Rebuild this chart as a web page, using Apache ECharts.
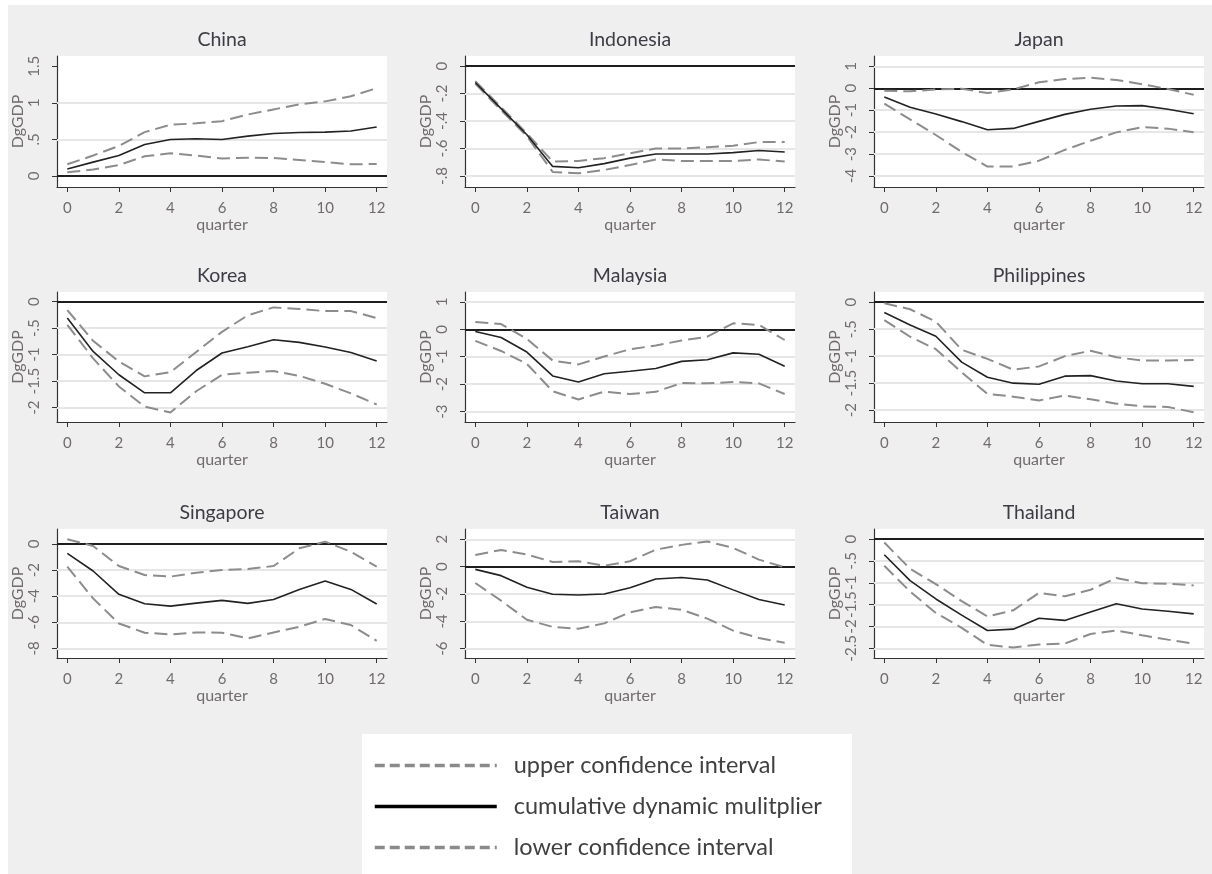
<!DOCTYPE html>
<html>
<head>
<meta charset="utf-8">
<script src="https://cdn.jsdelivr.net/npm/echarts/dist/echarts.min.js"></script>
<style>
html,body{margin:0;padding:0;background:#ffffff;}
#chart{width:1212px;height:874px;}
</style>
</head>
<body>
<div id="chart"></div>
<script>
// ---------------- data ----------------
const quarters = [0,1,2,3,4,5,6,7,8,9,10,11,12];
const countries = ['China','Indonesia','Japan','Korea','Malaysia','Philippines','Singapore','Taiwan','Thailand'];
const seriesNames = ['upper confidence interval','cumulative dynamic mulitplier','lower confidence interval'];

const chinaMid   = [0.095,0.19,0.28,0.43,0.50,0.51,0.50,0.545,0.58,0.595,0.60,0.615,0.67];
const chinaUp    = [0.16,0.28,0.41,0.60,0.70,0.72,0.75,0.84,0.91,0.98,1.02,1.09,1.20];
const chinaLo    = [0.05,0.09,0.15,0.27,0.31,0.28,0.24,0.25,0.245,0.22,0.19,0.16,0.165];

const indonesiaMid = [-0.12,-0.31,-0.50,-0.73,-0.74,-0.71,-0.67,-0.64,-0.64,-0.64,-0.63,-0.615,-0.625];
const indonesiaUp  = [-0.11,-0.30,-0.49,-0.695,-0.69,-0.67,-0.635,-0.60,-0.60,-0.59,-0.58,-0.553,-0.553];
const indonesiaLo  = [-0.13,-0.32,-0.51,-0.77,-0.78,-0.756,-0.72,-0.68,-0.69,-0.69,-0.69,-0.68,-0.695];

const japanMid = [-0.40,-0.87,-1.17,-1.52,-1.89,-1.83,-1.51,-1.19,-0.96,-0.81,-0.79,-0.96,-1.16];
const japanUp  = [-0.11,-0.14,-0.05,-0.02,-0.22,-0.05,0.27,0.42,0.48,0.38,0.18,-0.03,-0.30];
const japanLo  = [-0.70,-1.42,-2.13,-2.90,-3.57,-3.56,-3.30,-2.81,-2.39,-2.01,-1.77,-1.84,-2.01];

const koreaMid = [-0.31,-0.94,-1.38,-1.72,-1.72,-1.30,-0.97,-0.85,-0.72,-0.77,-0.855,-0.96,-1.12];
const koreaUp  = [-0.16,-0.74,-1.13,-1.41,-1.33,-0.95,-0.57,-0.26,-0.11,-0.14,-0.18,-0.18,-0.31];
const koreaLo  = [-0.44,-1.07,-1.60,-1.98,-2.09,-1.69,-1.38,-1.34,-1.31,-1.40,-1.55,-1.73,-1.94];

const malaysiaMid = [-0.08,-0.30,-0.83,-1.70,-1.92,-1.62,-1.53,-1.43,-1.17,-1.11,-0.86,-0.91,-1.35];
const malaysiaUp  = [0.27,0.19,-0.35,-1.14,-1.28,-0.99,-0.73,-0.59,-0.41,-0.27,0.22,0.16,-0.39];
const malaysiaLo  = [-0.42,-0.79,-1.26,-2.26,-2.56,-2.27,-2.36,-2.28,-1.96,-1.97,-1.92,-1.97,-2.36];

const philippinesMid = [-0.19,-0.42,-0.63,-1.11,-1.39,-1.50,-1.52,-1.37,-1.36,-1.46,-1.51,-1.51,-1.56];
const philippinesUp  = [-0.02,-0.13,-0.36,-0.88,-1.05,-1.25,-1.19,-1.00,-0.90,-1.02,-1.08,-1.08,-1.07];
const philippinesLo  = [-0.33,-0.64,-0.87,-1.30,-1.70,-1.75,-1.82,-1.73,-1.80,-1.88,-1.93,-1.94,-2.04];

const singaporeMid = [-0.72,-2.07,-3.86,-4.58,-4.76,-4.53,-4.32,-4.55,-4.25,-3.48,-2.84,-3.48,-4.60];
const singaporeUp  = [0.36,-0.15,-1.69,-2.38,-2.50,-2.20,-2.00,-1.92,-1.69,-0.33,0.18,-0.59,-1.74];
const singaporeLo  = [-1.74,-4.17,-6.09,-6.80,-6.93,-6.78,-6.80,-7.24,-6.78,-6.34,-5.75,-6.21,-7.42];

const taiwanMid = [-0.20,-0.66,-1.51,-2.02,-2.07,-2.00,-1.54,-0.90,-0.80,-0.98,-1.70,-2.41,-2.80];
const taiwanUp  = [0.85,1.22,0.88,0.34,0.39,0.07,0.39,1.24,1.59,1.83,1.37,0.51,-0.05];
const taiwanLo  = [-1.20,-2.49,-3.88,-4.41,-4.54,-4.15,-3.34,-2.95,-3.15,-3.80,-4.68,-5.22,-5.56];

const thailandMid = [-0.36,-0.95,-1.37,-1.74,-2.09,-2.06,-1.81,-1.86,-1.67,-1.48,-1.60,-1.65,-1.71];
const thailandUp  = [-0.08,-0.68,-1.03,-1.42,-1.77,-1.63,-1.23,-1.31,-1.16,-0.89,-1.01,-1.02,-1.06];
const thailandLo  = [-0.61,-1.20,-1.69,-2.03,-2.42,-2.48,-2.41,-2.39,-2.17,-2.09,-2.20,-2.30,-2.39];

const xTicks = [0,2,4,6,8,10,12];
const yTicksChina       = [0,0.5,1,1.5];
const yTicksIndonesia   = [0,-0.2,-0.4,-0.6,-0.8];
const yTicksJapan       = [1,0,-1,-2,-3,-4];
const yTicksKorea       = [0,-0.5,-1,-1.5,-2];
const yTicksMalaysia    = [1,0,-1,-2,-3];
const yTicksPhilippines = [0,-0.5,-1,-1.5,-2];
const yTicksSingapore   = [0,-2,-4,-6,-8];
const yTicksTaiwan      = [2,0,-2,-4,-6];
const yTicksThailand    = [0,-0.5,-1,-1.5,-2,-2.5];

// y-range of each plot region
const yMin = [-0.15,-0.88,-4.5,-2.27,-3.38,-2.22,-8.74,-6.68,-2.72];
const yMax = [1.64,0.073,1.47,0.18,1.36,0.19,1.15,2.75,0.23];

const mids = [chinaMid,indonesiaMid,japanMid,koreaMid,malaysiaMid,philippinesMid,singaporeMid,taiwanMid,thailandMid];
const ups  = [chinaUp,indonesiaUp,japanUp,koreaUp,malaysiaUp,philippinesUp,singaporeUp,taiwanUp,thailandUp];
const los  = [chinaLo,indonesiaLo,japanLo,koreaLo,malaysiaLo,philippinesLo,singaporeLo,taiwanLo,thailandLo];
const yTicks = [yTicksChina,yTicksIndonesia,yTicksJapan,yTicksKorea,yTicksMalaysia,yTicksPhilippines,yTicksSingapore,yTicksTaiwan,yTicksThailand];

// ---------------- layout ----------------
const colLeft = [57, 465, 874];
const plotW = 330;
const rowTop = [56, 292, 529];
const plotH = [131, 130, 129];

const FONT = 'Lato';
const labelColor = '#716b6e';
const fmt = v => {
  let s = String(Math.round(v*1000)/1000);
  return s.replace(/^(-?)0\./, '$1.');
};

const chart = echarts.init(document.getElementById('chart'), null, {renderer:'canvas'});

const grid = [], xAxis = [], yAxis = [], series = [], title = [];

countries.forEach((name, i) => {
  const r = Math.floor(i/3), c = i % 3;
  grid.push({left: colLeft[c], top: rowTop[r], width: plotW, height: plotH[r], backgroundColor:'#ffffff', show:true, borderWidth:0});
  title.push({
    text: name, left: colLeft[c] + plotW/2, top: rowTop[r] - 26, textAlign:'center', padding:0,
    textStyle:{fontFamily:FONT, fontSize:19.5, fontWeight:'normal', color:'#3e3b44'}
  });
  xAxis.push({
    type:'value', gridIndex:i, min:-0.4, max:12.4,
    name:'quarter', nameLocation:'middle', nameGap:24,
    nameTextStyle:{fontFamily:FONT, fontSize:16, color:labelColor},
    axisLine:{show:true, onZero:false, lineStyle:{color:'#333', width:1.2}},
    axisTick:{show:true, length:5, inside:false, customValues:xTicks, lineStyle:{color:'#333', width:1}},
    axisLabel:{customValues:xTicks, margin:14, fontFamily:FONT, fontSize:15, color:labelColor},
    splitLine:{show:false}
  });
  const gridVals = yTicks[i].filter(v => v !== 0 && !(i === 0 && v === 1.5));
  yAxis.push({
    type:'value', gridIndex:i, min:yMin[i], max:yMax[i],
    name:'DgGDP', nameLocation:'middle', nameGap:31,
    nameTextStyle:{fontFamily:FONT, fontSize:16, color:labelColor},
    axisLine:{show:true, onZero:false, lineStyle:{color:'#333', width:1.2}},
    axisTick:{show:true, length:5, inside:false, customValues:yTicks[i], lineStyle:{color:'#333', width:1}},
    axisLabel:{customValues:yTicks[i], rotate:90, margin:15, fontFamily:FONT, fontSize:15, color:labelColor, formatter:fmt},
    splitLine:{show:false}
  });
  // gridlines and zero line
  series.push({
    type:'line', xAxisIndex:i, yAxisIndex:i, data:[], silent:true, z:1,
    markLine:{
      silent:true, symbol:'none', z:1, animation:false,
      label:{show:false},
      lineStyle:{color:'#e6e6e6', width:2, type:'solid'},
      data: gridVals.map(v => ({yAxis:v}))
    }
  });
  series.push({
    type:'line', xAxisIndex:i, yAxisIndex:i, data:[], silent:true, z:3,
    markLine:{
      silent:true, symbol:'none', z:3, animation:false,
      label:{show:false},
      lineStyle:{color:'#1e1e1e', width:2, type:'solid'},
      data:[{yAxis:0}]
    }
  });
  const mk = (arr) => quarters.map((q,k) => [q, arr[k]]);
  series.push({
    name: seriesNames[0], type:'line', xAxisIndex:i, yAxisIndex:i, data: mk(ups[i]),
    symbol:'none', z:4, animation:false, color:'#8c8c8c',
    lineStyle:{color:'#8c8c8c', width:2, type:[13,6]}
  });
  series.push({
    name: seriesNames[1], type:'line', xAxisIndex:i, yAxisIndex:i, data: mk(mids[i]),
    symbol:'none', z:5, animation:false, color:'#222222',
    lineStyle:{color:'#222222', width:1.6, type:'solid'}
  });
  series.push({
    name: seriesNames[2], type:'line', xAxisIndex:i, yAxisIndex:i, data: mk(los[i]),
    symbol:'none', z:4, animation:false, color:'#8c8c8c',
    lineStyle:{color:'#8c8c8c', width:2, type:[13,6]}
  });
});

const hidden = {color:'rgba(0,0,0,0)', borderWidth:0, borderColor:'rgba(0,0,0,0)', opacity:0};
const option = {
  backgroundColor:'#ffffff',
  animation:false,
  graphic:[
    {type:'rect', left:8, top:5, shape:{width:1204, height:869}, style:{fill:'#efefef'}, z:-10, silent:true},
    {type:'rect', left:362, top:734, shape:{width:490, height:140}, style:{fill:'#ffffff'}, z:-9, silent:true}
  ],
  title: title,
  grid: grid,
  xAxis: xAxis,
  yAxis: yAxis,
  legend:{
    orient:'vertical', left:373, top:752, padding:0, itemWidth:122, itemHeight:14, itemGap:14,
    selectedMode:false,
    textStyle:{fontFamily:FONT, fontSize:23.5, color:'#404040', lineHeight:27, padding:[0,0,0,12]},
    data:[
      {name:seriesNames[0], itemStyle:hidden, lineStyle:{color:'#8a8a8a', width:3.5, type:[10,5]}},
      {name:seriesNames[1], itemStyle:hidden, lineStyle:{color:'#000000', width:3.5, type:'solid'}},
      {name:seriesNames[2], itemStyle:hidden, lineStyle:{color:'#8a8a8a', width:3.5, type:[10,5]}}
    ]
  },
  series: series
};
chart.setOption(option);
</script>
</body>
</html>
